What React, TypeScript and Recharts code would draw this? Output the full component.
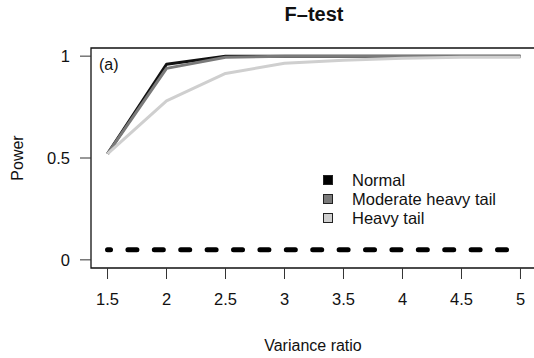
import {
  Line,
  LineChart,
  ReferenceArea,
  XAxis,
  YAxis,
} from "recharts";

const varianceRatio = [1.5, 2, 2.5, 3, 3.5, 4, 4.5, 5];
const normalPower = [0.52, 0.96, 1, 1, 1, 1, 1, 1];
const moderatePower = [0.52, 0.94, 0.995, 1, 1, 1, 1, 1];
const heavyPower = [0.52, 0.78, 0.915, 0.965, 0.98, 0.99, 0.995, 0.995];
const nominalLevel = 0.05;

const xTicks = [1.5, 2, 2.5, 3, 3.5, 4, 4.5, 5];
const yTicks = [0, 0.5, 1];

const seriesInfo = [
  { key: "normal", name: "Normal", color: "#111111", swatch: "#000000" },
  { key: "moderate", name: "Moderate heavy tail", color: "#7a7a7a", swatch: "#7a7a7a" },
  { key: "heavy", name: "Heavy tail", color: "#cfcfcf", swatch: "#cfcfcf" },
];

const data = varianceRatio.map((ratio, i) => ({
  ratio,
  normal: normalPower[i],
  moderate: moderatePower[i],
  heavy: heavyPower[i],
  nominal: nominalLevel,
}));

const FONT = '"Liberation Sans", Arial, Helvetica, sans-serif';

function LegendBox() {
  return (
    <div
      style={{
        position: "absolute",
        left: 323,
        top: 170.5,
        fontSize: 16.5,
        color: "#111",
      }}
    >
      {seriesInfo.map((s) => (
        <div
          key={s.key}
          style={{ display: "flex", alignItems: "center", height: 19.2, whiteSpace: "nowrap" }}
        >
          <div
            style={{
              width: 8,
              height: 8,
              background: s.swatch,
              border: "1px solid #222",
              marginRight: 19,
            }}
          />
          <span>{s.name}</span>
        </div>
      ))}
    </div>
  );
}

export default function App() {
  const tickStyle = { fontSize: 16.5, fill: "#111", fontFamily: FONT };
  return (
    <div
      style={{
        position: "absolute",
        left: 0,
        top: 0,
        width: 534,
        height: 358,
        overflow: "hidden",
        background: "#fff",
        fontFamily: FONT,
      }}
    >
      <LineChart
        width={547}
        height={358}
        data={data}
        margin={{ top: 48, right: 10, bottom: 0, left: 0 }}
      >
        <XAxis
          dataKey="ratio"
          type="number"
          domain={[1.36, 5.14]}
          allowDataOverflow
          ticks={xTicks}
          axisLine={false}
          tickLine={{ stroke: "#333" }}
          tickSize={11}
          tickMargin={14}
          height={90}
          tick={tickStyle}
        />
        <YAxis
          type="number"
          domain={[-0.04, 1.04]}
          allowDataOverflow
          ticks={yTicks}
          axisLine={false}
          tickLine={{ stroke: "#333" }}
          tickSize={11}
          tickMargin={10}
          width={91}
          tick={tickStyle}
        />
        <ReferenceArea
          x1={1.36}
          x2={5.14}
          y1={-0.04}
          y2={1.04}
          fill="none"
          fillOpacity={0}
          stroke="#111"
          strokeWidth={1.3}
          ifOverflow="visible"
        />
        <Line
          dataKey="nominal"
          stroke="#000"
          strokeWidth={5}
          strokeDasharray="9 17.4"
          strokeDashoffset={6}
          strokeLinecap="round"
          dot={false}
          isAnimationActive={false}
        />
        {seriesInfo.map((s) => (
          <Line
            key={s.key}
            dataKey={s.key}
            name={s.name}
            stroke={s.color}
            strokeWidth={3}
            strokeLinejoin="round"
            dot={false}
            isAnimationActive={false}
          />
        ))}
      </LineChart>
      <div
        style={{
          position: "absolute",
          left: 214,
          width: 200,
          top: 3,
          textAlign: "center",
          fontSize: 20,
          fontWeight: "bold",
          color: "#111",
        }}
      >
        F–test
      </div>
      <div
        style={{
          position: "absolute",
          left: 18,
          top: 158,
          transform: "translate(-50%, -50%) rotate(-90deg)",
          fontSize: 16,
          color: "#111",
          whiteSpace: "nowrap",
        }}
      >
        Power
      </div>
      <div
        style={{
          position: "absolute",
          left: 213,
          width: 200,
          top: 337,
          textAlign: "center",
          fontSize: 16,
          color: "#111",
        }}
      >
        Variance ratio
      </div>
      <div
        style={{
          position: "absolute",
          left: 99,
          top: 56,
          fontSize: 16,
          color: "#111",
        }}
      >
        (a)
      </div>
      <LegendBox />
    </div>
  );
}
